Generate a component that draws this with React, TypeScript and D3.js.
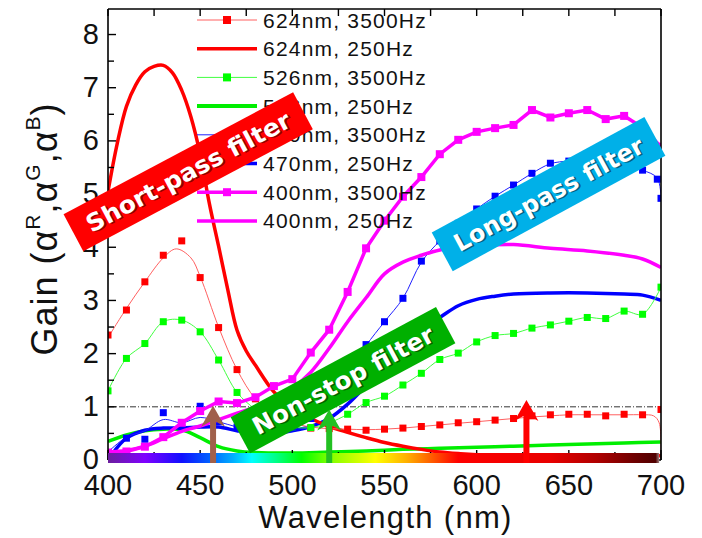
import React from "react";
import * as d3 from "d3";

// ---------- data ----------
const WL10 = [400, 410, 420, 430, 440, 450, 460, 470, 480, 490, 500, 510, 520, 530, 540, 550, 560, 570, 580, 590, 600, 610, 620, 630, 640, 650, 660, 670, 680, 690, 700];

// 624nm, 3500Hz (markers)
const R3500 = [2.35, 2.82, 3.35, 3.85, 4.12, 3.43, 2.49, 1.70, 1.15, 0.85, 0.68, 0.60, 0.59, 0.58, 0.56, 0.58, 0.60, 0.63, 0.66, 0.70, 0.72, 0.75, 0.78, 0.83, 0.85, 0.86, 0.86, 0.83, 0.86, 0.85, 0.95];
// 624nm, 3500Hz (fitted thin line)
const R3500_FIT_WL = [400, 410, 420, 430, 437, 445, 450, 460, 470, 480, 490, 500, 510, 520, 530, 540, 550, 560, 570, 580, 590, 600, 610, 620, 630, 640, 650, 660, 670, 680, 690, 696, 699, 700];
const R3500_FIT = [2.3, 2.85, 3.35, 3.8, 3.97, 3.8, 3.45, 2.5, 1.7, 1.15, 0.86, 0.7, 0.62, 0.59, 0.58, 0.57, 0.58, 0.6, 0.63, 0.66, 0.69, 0.72, 0.75, 0.78, 0.81, 0.83, 0.85, 0.85, 0.85, 0.85, 0.85, 0.83, 0.7, 0.0];

// 624nm, 250Hz
const R250_WL = [400, 405, 410, 415, 420, 425, 430, 435, 440, 445, 450, 455, 460, 465, 470, 475, 480, 490, 500, 510, 520, 530, 540, 550, 560, 570, 580, 590, 600, 650, 700];
const R250 = [5.05, 5.95, 6.65, 7.05, 7.3, 7.4, 7.42, 7.28, 6.95, 6.45, 5.75, 4.82, 4.02, 3.2, 2.44, 2.05, 1.78, 1.28, 0.98, 0.78, 0.63, 0.52, 0.42, 0.33, 0.26, 0.2, 0.15, 0.12, 0.1, 0.08, 0.08];

// 526nm, 3500Hz
const G3500 = [1.30, 1.91, 2.19, 2.60, 2.63, 2.41, 1.88, 1.27, 0.95, 0.72, 0.62, 0.61, 0.70, 0.86, 1.08, 1.20, 1.41, 1.63, 1.89, 2.01, 2.22, 2.34, 2.38, 2.48, 2.54, 2.61, 2.68, 2.66, 2.80, 2.74, 3.25];

// 526nm, 250Hz
const G250_WL = [400, 410, 420, 430, 440, 450, 460, 470, 480, 500, 520, 540, 560, 580, 600, 620, 640, 660, 680, 700];
const G250 = [0.35, 0.47, 0.55, 0.58, 0.57, 0.42, 0.25, 0.17, 0.14, 0.13, 0.15, 0.17, 0.2, 0.22, 0.24, 0.26, 0.28, 0.3, 0.32, 0.34];

// 470nm, 3500Hz (markers)
const B3500_WL = [400, 410, 420, 430, 440, 450, 460, 470, 480, 490, 500, 510, 520, 530, 540, 550, 560, 570, 580, 590, 600, 610, 620, 630, 640, 650, 660, 670, 680, 690, 698, 700];
const B3500 = [0.12, 0.41, 0.39, 0.89, 0.62, 1.01, 0.72, 0.62, 0.55, 0.55, 0.62, 0.78, 1.10, 1.60, 2.17, 2.60, 3.04, 3.74, 4.12, 4.45, 4.72, 4.96, 5.17, 5.39, 5.58, 5.62, 5.62, 5.60, 5.55, 5.45, 5.28, 4.92];
// 470nm, 3500Hz (fitted thin line)
const B3500_FIT = [0.15, 0.43, 0.55, 0.76, 0.7, 0.8, 0.72, 0.62, 0.56, 0.56, 0.63, 0.8, 1.12, 1.6, 2.15, 2.6, 3.04, 3.72, 4.12, 4.45, 4.72, 4.96, 5.17, 5.39, 5.57, 5.62, 5.62, 5.6, 5.55, 5.45, 5.3, 4.92];

// 470nm, 250Hz
const B250_WL = [402, 410, 420, 430, 440, 450, 460, 470, 480, 490, 500, 510, 520, 530, 540, 550, 560, 570, 580, 590, 600, 610, 620, 640, 660, 680, 690, 700];
const B250 = [0.1, 0.41, 0.56, 0.6, 0.6, 0.62, 0.62, 0.55, 0.5, 0.5, 0.55, 0.63, 0.78, 1.05, 1.4, 1.78, 2.12, 2.45, 2.68, 2.9, 3.02, 3.08, 3.12, 3.14, 3.14, 3.12, 3.1, 3.0];

// 400nm, 3500Hz
const M3500 = [0.14, 0.16, 0.25, 0.43, 0.70, 0.92, 1.10, 1.07, 1.18, 1.39, 1.52, 2.02, 2.45, 3.16, 3.98, 4.50, 4.95, 5.32, 5.75, 6.02, 6.17, 6.24, 6.30, 6.58, 6.44, 6.52, 6.58, 6.41, 6.47, 6.25, 5.89];

// 400nm, 250Hz
const M250_WL = [400, 410, 420, 430, 440, 450, 460, 470, 480, 490, 500, 510, 520, 530, 540, 550, 560, 570, 580, 590, 600, 620, 640, 660, 680, 690, 700];
const M250 = [0.15, 0.18, 0.26, 0.4, 0.54, 0.64, 0.76, 0.88, 1.0, 1.15, 1.35, 1.65, 2.1, 2.6, 3.05, 3.5, 3.72, 3.85, 3.95, 4.0, 4.03, 4.05, 3.98, 3.93, 3.85, 3.78, 3.62];

const LEGEND_LABELS = ["624nm, 3500Hz", "624nm, 250Hz", "526nm, 3500Hz", "526nm, 250Hz", "470nm, 3500Hz", "470nm, 250Hz", "400nm, 3500Hz", "400nm, 250Hz"];

const X_TICKS = [400, 450, 500, 550, 600, 650, 700];
const X_MINOR = [425, 475, 525, 575, 625, 675];
const Y_TICKS = [0, 1, 2, 3, 4, 5, 6, 7, 8];
const Y_MINOR = [0.5, 1.5, 2.5, 3.5, 4.5, 5.5, 6.5, 7.5];

const SPECTRUM_WL = [400, 420, 440, 455, 468, 478, 492, 505, 520, 545, 562, 575, 590, 640, 665, 685, 697, 699];
const SPECTRUM_COLORS = ["#6b1f9c", "#8000ff", "#1010ff", "#0060ff", "#00b0ff", "#00ffff", "#00ff80", "#00ff00", "#80ff00", "#ffff00", "#ffb000", "#ff6000", "#ff0000", "#e80000", "#b00000", "#700000", "#500000", "#a08080"];

const ANNOT_LABELS = ["Short-pass filter", "Long-pass filter", "Non-stop filter"];
const ANNOT_WL = [443.5, 639, 527.5];
const ANNOT_GAIN = [5.42, 5.0, 1.5];

const ARROW_WL = [457, 520, 627];
const ARROW_TOP = [1.02, 0.95, 1.13];

// ---------- layout ----------
const W = 702;
const H = 538;
const L = 108, R = 661, T = 9, B = 460;

const x = d3.scaleLinear().domain([400, 700]).range([L, R]);
const y = d3.scaleLinear().domain([0, 8.48]).range([B, T]);

type P = [number, number];
const zip = (a: number[], b: number[]): P[] => a.map((v, i) => [v, b[i]] as P);

const smooth = d3.line<P>().x(d => x(d[0])).y(d => y(d[1])).curve(d3.curveCatmullRom.alpha(0.5));
const straight = d3.line<P>().x(d => x(d[0])).y(d => y(d[1]));

const FONT = "'Liberation Sans', Arial, sans-serif";

function Squares({ pts, color, size = 7 }: { pts: P[]; color: string; size?: number }) {
  return (
    <g>
      {pts.map((d, i) => (
        <rect key={i} x={x(d[0]) - size / 2} y={y(d[1]) - size / 2} width={size} height={size} fill={color} />
      ))}
    </g>
  );
}

function arrowPath(cx: number, yTip: number, yBase: number) {
  const hw = 12, hl = 21, sw = 3, notch = 16;
  return `M${cx},${yTip} L${cx + hw},${yTip + hl} L${cx + sw},${yTip + notch} L${cx + sw},${yBase} L${cx - sw},${yBase} L${cx - sw},${yTip + notch} L${cx - hw},${yTip + hl} Z`;
}

export default function App() {
  const legendRowY = (i: number) => 20 + i * 28.7;
  const legendStyles = [
    { color: "#ff6060", w: 1, mk: "#ff0000" },
    { color: "#ff0000", w: 3.5, mk: null },
    { color: "#40ff40", w: 1, mk: "#00ff00" },
    { color: "#00ee00", w: 4, mk: null },
    { color: "#2020ff", w: 1, mk: "#0000ff" },
    { color: "#0000ff", w: 3.5, mk: null },
    { color: "#ff00ff", w: 3.5, mk: "#ff00ff" },
    { color: "#ff00ff", w: 3.5, mk: null },
  ];
  const boxes = [
    { w: 260, h: 42, angle: -28, fill: "#ff0000", tl: 228 },
    { w: 242, h: 44, angle: -28.5, fill: "#00b0e8", tl: 212 },
    { w: 233, h: 41, angle: -28.2, fill: "#00b000", tl: 202 },
  ];
  const arrowColors = ["#a0604a", "#22c022", "#ff0000"];

  return (
    <svg width={W} height={H} style={{ position: "absolute", left: 0, top: 0, background: "#fff" }}>
      <defs>
        <linearGradient id="spec" x1={x(400)} x2={x(700)} y1={0} y2={0} gradientUnits="userSpaceOnUse">
          {SPECTRUM_WL.map((wl, i) => (
            <stop key={i} offset={(wl - 400) / 300} stopColor={SPECTRUM_COLORS[i]} />
          ))}
        </linearGradient>
        <clipPath id="plot">
          <rect x={L} y={T} width={R - L} height={B - T + 4} />
        </clipPath>
      </defs>
      <rect width={W} height={H} fill="#fff" />

      {/* reference line at gain 1 */}
      <line x1={L} x2={R} y1={y(1)} y2={y(1)} stroke="#333" strokeWidth={1} strokeDasharray="6,2,1,2" />

      <g clipPath="url(#plot)">
        <path d={smooth(zip(G250_WL, G250)) || ""} fill="none" stroke="#00ee00" strokeWidth={3.5} />
        <path d={smooth(zip(B250_WL, B250)) || ""} fill="none" stroke="#0000ff" strokeWidth={3.5} />
        <path d={smooth(zip(R250_WL, R250)) || ""} fill="none" stroke="#ff0000" strokeWidth={3.5} />
        <path d={smooth(zip(R3500_FIT_WL, R3500_FIT)) || ""} fill="none" stroke="#ff6060" strokeWidth={1} />
        <Squares pts={zip(WL10, R3500)} color="#ff0000" />
        <path d={smooth(zip(WL10, G3500)) || ""} fill="none" stroke="#40ff40" strokeWidth={1} />
        <Squares pts={zip(WL10, G3500)} color="#00ff00" />
        <path d={smooth(zip(B3500_WL, B3500_FIT)) || ""} fill="none" stroke="#2020ff" strokeWidth={1} />
        <Squares pts={zip(B3500_WL, B3500)} color="#0000ff" />
        <path d={smooth(zip(M250_WL, M250)) || ""} fill="none" stroke="#ff00ff" strokeWidth={3.5} />
        <path d={straight(zip(WL10, M3500)) || ""} fill="none" stroke="#ff00ff" strokeWidth={3.5} />
        <Squares pts={zip(WL10, M3500)} color="#ff00ff" size={8} />
      </g>

      {/* legend */}
      <g fontFamily={FONT} fontSize={21} fill="#111">
        {LEGEND_LABELS.map((lab, i) => {
          const ly = legendRowY(i);
          const st = legendStyles[i];
          return (
            <g key={i}>
              <line x1={197} x2={257} y1={ly} y2={ly} stroke={st.color} strokeWidth={st.w} />
              {st.mk && <rect x={227 - 4} y={ly - 4} width={8} height={8} fill={st.mk} />}
              <text x={263} y={ly + 7.5} letterSpacing={1.2}>{lab}</text>
            </g>
          );
        })}
      </g>

      {/* axes frame */}
      <g stroke="#000" strokeWidth={1.6} fill="none">
        <line x1={L} x2={R} y1={T} y2={T} />
        <line x1={L} x2={L} y1={T} y2={B} />
        <line x1={R} x2={R} y1={T} y2={B} />
        <line x1={L} x2={R} y1={B} y2={B} />
      </g>
      <g stroke="#000" strokeWidth={1.4}>
        {Y_TICKS.map(t => <line key={"y" + t} x1={L} x2={L + 8} y1={y(t)} y2={y(t)} />)}
        {Y_MINOR.map(t => <line key={"ym" + t} x1={L} x2={L + 6} y1={y(t)} y2={y(t)} />)}
        {X_TICKS.map(t => <line key={"xt" + t} x1={x(t)} x2={x(t)} y1={T} y2={T + 7} />)}
        {X_MINOR.map(t => <line key={"xtm" + t} x1={x(t)} x2={x(t)} y1={T} y2={T + 7} />)}
        {X_TICKS.map(t => <line key={"xb" + t} x1={x(t)} x2={x(t)} y1={B} y2={B - 10} />)}
        {X_MINOR.map(t => <line key={"xbm" + t} x1={x(t)} x2={x(t)} y1={B} y2={B - 8} />)}
      </g>

      {/* spectrum bar */}
      <rect x={L} y={453} width={x(699) - L} height={10} fill="url(#spec)" />

      {/* tick labels */}
      <g fontFamily={FONT} fontSize={29} fill="#111">
        {Y_TICKS.map(t => (
          <text key={t} x={99} y={y(t)} dy="0.32em" textAnchor="end">{t}</text>
        ))}
        {X_TICKS.map(t => (
          <text key={t} x={x(t)} y={495} textAnchor="middle">{t}</text>
        ))}
      </g>

      {/* axis titles */}
      <text x={(L + R) / 2 + 1} y={528} textAnchor="middle" fontFamily={FONT} fontSize={31} fill="#111" letterSpacing={1.3}>
        Wavelength (nm)
      </text>
      <text transform={`translate(57,229) rotate(-90)`} textAnchor="middle" fontFamily={FONT} fontSize={36} fill="#111" letterSpacing={1}>
        Gain (α<tspan dy={-17} fontSize={21}>R</tspan><tspan dy={17}>,α</tspan><tspan dy={-17} fontSize={21}>G</tspan><tspan dy={17}>,α</tspan><tspan dy={-17} fontSize={21}>B</tspan><tspan dy={17}>)</tspan>
      </text>

      <path d={arrowPath(x(ARROW_WL[0]), y(ARROW_TOP[0]), 463)} fill={arrowColors[0]} />

      {/* annotation boxes */}
      {ANNOT_LABELS.map((lab, i) => {
        const b = boxes[i];
        return (
          <g key={lab} transform={`translate(${x(ANNOT_WL[i])},${y(ANNOT_GAIN[i])}) rotate(${b.angle})`}>
            <rect x={-b.w / 2} y={-b.h / 2} width={b.w} height={b.h} fill={b.fill} />
            <text x={1.6} y={1.6} dy="0.36em" textAnchor="middle" fontFamily="'DejaVu Sans', sans-serif" fontWeight="bold" fontSize={24} fill="rgba(0,0,0,0.45)" textLength={b.tl} lengthAdjust="spacingAndGlyphs">{lab}</text>
            <text x={0} y={0} dy="0.36em" textAnchor="middle" fontFamily="'DejaVu Sans', sans-serif" fontWeight="bold" fontSize={24} fill="#fff" textLength={b.tl} lengthAdjust="spacingAndGlyphs">{lab}</text>
          </g>
        );
      })}

      <path d={arrowPath(x(ARROW_WL[1]), y(ARROW_TOP[1]), 463)} fill={arrowColors[1]} />
      <path d={arrowPath(x(ARROW_WL[2]), y(ARROW_TOP[2]), 463)} fill={arrowColors[2]} />
    </svg>
  );
}
